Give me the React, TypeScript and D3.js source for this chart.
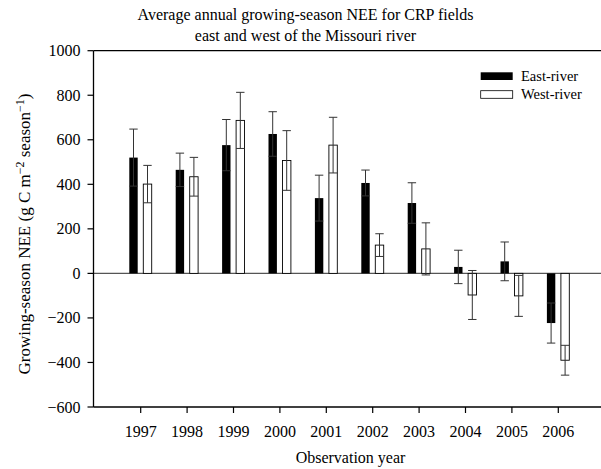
import React from "react";
import * as d3 from "d3";

const years = [1997, 1998, 1999, 2000, 2001, 2002, 2003, 2004, 2005, 2006];
const eastValues = [520, 465, 576, 626, 338, 406, 316, 29, 54, -223];
const eastErrors = [128, 75, 115, 100, 103, 58, 91, 75, 87, 90];
const westValues = [401, 434, 687, 507, 576, 127, 110, -97, -101, -390];
const westErrors = [84, 87, 126, 134, 125, 51, 117, 110, 92, 67];
const yTicks = [-600, -400, -200, 0, 200, 400, 600, 800, 1000];
const seriesNames = ["East-river", "West-river"];

const W = 601;
const H = 469;
const FONT = "Liberation Serif, Times New Roman, serif";

export default function App() {
  const x = d3.scaleLinear().domain([1996, 2007]).range([94.3, 604.7]);
  const y = d3.scaleLinear().domain([-600, 1000]).range([407, 50.7]);
  const axisX = 93.5;
  const barW = 8.4;

  const series = [
    { values: eastValues, errors: eastErrors, off: -11.4, fill: "#000" },
    { values: westValues, errors: westErrors, off: 2.6, fill: "#fff" },
  ];

  const T = { fontFamily: FONT, fill: "#000" } as React.CSSProperties;

  return (
    <svg
      width={W}
      height={H}
      style={{ position: "absolute", left: 0, top: 0, background: "#fff" }}
    >
      <rect x={0} y={0} width={W} height={H} fill="#fff" />
      {/* title */}
      <text x={305.5} y={20} textAnchor="middle" fontSize={16} style={T}>
        Average annual growing-season NEE for CRP fields
      </text>
      <text x={305.5} y={41} textAnchor="middle" fontSize={16} style={T}>
        east and west of the Missouri river
      </text>

      {/* zero line */}
      <line x1={axisX} x2={W} y1={y(0)} y2={y(0)} stroke="#555" strokeWidth={1.2} />

      {/* bars */}
      {series.map((s, si) =>
        years.map((yr, i) => {
          const v = s.values[i];
          const x0 = x(yr) + s.off;
          const top = Math.min(y(v), y(0));
          const h = Math.abs(y(v) - y(0));
          return (
            <rect
              key={`b${si}-${i}`}
              x={x0}
              y={top}
              width={barW}
              height={h}
              fill={s.fill}
              stroke="#000"
              strokeWidth={si === 0 ? 0 : 0.9}
            />
          );
        })
      )}

      {/* error bars */}
      {series.map((s, si) =>
        years.map((yr, i) => {
          const v = s.values[i];
          const e = s.errors[i];
          const cx = x(yr) + s.off + barW / 2;
          const y1 = y(v + e);
          const y2 = y(v - e);
          return (
            <g key={`e${si}-${i}`} stroke="#333" strokeWidth={1}>
              <line x1={cx} x2={cx} y1={y1} y2={y2} />
              <line x1={cx - barW / 2} x2={cx + barW / 2} y1={y1} y2={y1} />
              <line x1={cx - barW / 2} x2={cx + barW / 2} y1={y2} y2={y2} />
            </g>
          );
        })
      )}

      {/* frame */}
      <line x1={axisX} x2={axisX} y1={y(1000)} y2={y(-600)} stroke="#000" strokeWidth={1.3} />
      <line x1={axisX} x2={W} y1={y(1000)} y2={y(1000)} stroke="#000" strokeWidth={1.3} />
      <line x1={axisX} x2={W} y1={y(-600)} y2={y(-600)} stroke="#000" strokeWidth={1.3} />

      {/* y ticks */}
      {yTicks.map((t) => (
        <g key={`yt${t}`}>
          <line x1={axisX - 6} x2={axisX} y1={y(t)} y2={y(t)} stroke="#000" strokeWidth={1.2} />
          <text x={80.5} y={y(t) + 5.5} textAnchor="end" fontSize={16} style={T}>
            {t < 0 ? `\u2212${Math.abs(t)}` : `${t}`}
          </text>
        </g>
      ))}

      {/* x ticks */}
      {years.map((yr) => (
        <g key={`xt${yr}`}>
          <line x1={x(yr)} x2={x(yr)} y1={y(-600)} y2={y(-600) + 6} stroke="#000" strokeWidth={1.2} />
          <text x={x(yr)} y={436.7} textAnchor="middle" fontSize={16} style={T}>
            {yr}
          </text>
        </g>
      ))}

      {/* axis titles */}
      <text x={350.5} y={463} textAnchor="middle" fontSize={16} style={T}>
        Observation year
      </text>
      <text transform="translate(30,234) rotate(-90)" textAnchor="middle" fontSize={17} style={T}>
        Growing-season NEE (g C m
        <tspan dy={-6} fontSize={12}>{"\u22122"}</tspan>
        <tspan dy={6}> season</tspan>
        <tspan dy={-6} fontSize={12}>{"\u22121"}</tspan>
        <tspan dy={6}>)</tspan>
      </text>

      {/* legend */}
      <rect x={480.7} y={72.3} width={32} height={7.7} fill="#000" />
      <text x={521} y={80.7} fontSize={14.5} style={T}>{seriesNames[0]}</text>
      <rect x={480.7} y={90.7} width={32} height={7.6} fill="#fff" stroke="#000" strokeWidth={0.8} />
      <text x={521} y={98.5} fontSize={14.5} style={T}>{seriesNames[1]}</text>
    </svg>
  );
}
